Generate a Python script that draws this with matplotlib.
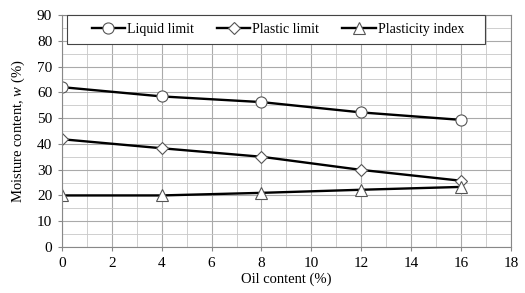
import matplotlib
matplotlib.use("Agg")
import matplotlib.pyplot as plt
from matplotlib.ticker import MultipleLocator
from matplotlib.patches import Rectangle

# data
oil = [0, 4, 8, 12, 16]
liquid_limit = [62, 58.4, 56.2, 52.2, 49.3]
plastic_limit = [41.8, 38.3, 35, 29.9, 25.7]
plasticity_index = [20, 20, 21, 22.2, 23.3]

plt.rcParams['font.family'] = ['Liberation Serif', 'DejaVu Serif']
plt.rcParams['mathtext.fontset'] = 'custom'
plt.rcParams['mathtext.it'] = 'Liberation Serif:italic'
plt.rcParams['mathtext.rm'] = 'Liberation Serif'

fig = plt.figure(figsize=(5.25, 2.93), dpi=100)
ax = fig.add_axes([0.118, 0.157, 0.855, 0.792])

line_kw = dict(color='black', lw=1.7, markerfacecolor='white',
               markeredgecolor='#555555', markeredgewidth=0.8)
ax.plot(oil, liquid_limit, marker='o', markersize=8, label='Liquid limit', **line_kw)
ax.plot(oil, plastic_limit, marker='D', markersize=6, label='Plastic limit', **line_kw)
ax.plot(oil, plasticity_index, marker='^', markersize=8, label='Plasticity index', **line_kw)

ax.set_xlim(0, 18)
ax.set_ylim(0, 90)
ax.xaxis.set_major_locator(MultipleLocator(2))
ax.xaxis.set_minor_locator(MultipleLocator(1))
ax.yaxis.set_major_locator(MultipleLocator(10))
ax.yaxis.set_minor_locator(MultipleLocator(5))
ax.grid(which='major', color='#aaaaaa', lw=0.8)
ax.grid(which='minor', color='#c8c8c8', lw=0.6)
ax.set_axisbelow(True)

for s in ax.spines.values():
    s.set_color('#888888')
    s.set_linewidth(0.8)

ax.tick_params(which='both', length=3, color='#888888', labelsize=11, pad=4)
ax.tick_params(which='minor', length=0)

ax.set_xlabel('Oil content (%)', fontsize=10.5, labelpad=2)
ax.set_ylabel('Moisture content, $w$ (%)', fontsize=10.5, labelpad=7)

# legend box, wider than the entries like in the original
ax.add_patch(Rectangle((0.011, 0.875), 0.931, 0.125, transform=ax.transAxes,
                       facecolor='white', edgecolor='#444444', lw=0.8,
                       zorder=4, clip_on=False))
leg = ax.legend(loc='upper left', bbox_to_anchor=(0.051, 0.995), ncol=3,
                fontsize=10, frameon=False, handlelength=2.4,
                handletextpad=0.15, columnspacing=1.65, borderpad=0.5,
                borderaxespad=0)
leg.set_zorder(5)

fig.savefig('out.png', dpi=100)
